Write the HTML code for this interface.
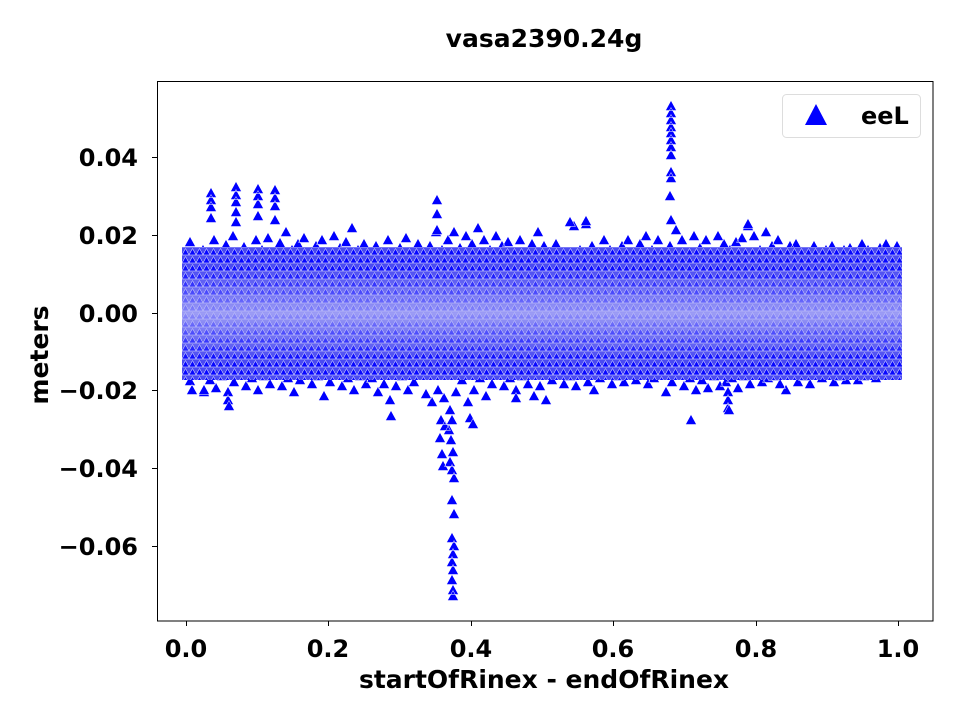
<!DOCTYPE html>
<html><head><meta charset="utf-8"><style>
body{margin:0;background:#fff}
svg{display:block;font-family:"DejaVu Sans","Liberation Sans",sans-serif;font-weight:bold}
</style></head><body>
<svg width="960" height="719" viewBox="0 0 960 719" xmlns="http://www.w3.org/2000/svg">
<defs>
<pattern id="p" x="0" y="0" width="7" height="8" patternUnits="userSpaceOnUse">
<rect width="7" height="8" fill="#4a4af2"/>
<path d="M3.5 0.5 L7 7 H0 Z" fill="#0808ff" stroke="#fff" stroke-width="0.5"/>
</pattern>
<linearGradient id="g" x1="0" y1="0" x2="0" y2="1">
<stop offset="0" stop-color="#b4b4f6" stop-opacity="0"/><stop offset="0.15" stop-color="#b4b4f6" stop-opacity="0"/><stop offset="0.35" stop-color="#b4b4f6" stop-opacity="0.4"/><stop offset="0.5" stop-color="#b8b8f6" stop-opacity="0.75"/><stop offset="0.65" stop-color="#b4b4f6" stop-opacity="0.4"/><stop offset="0.85" stop-color="#b4b4f6" stop-opacity="0"/><stop offset="1" stop-color="#b4b4f6" stop-opacity="0"/>
</linearGradient>
<clipPath id="c"><rect x="157" y="81" width="776" height="540"/></clipPath>
</defs>
<rect width="960" height="719" fill="#fff"/>
<g clip-path="url(#c)">
<g fill="#0000ff" stroke="#fff" stroke-width="0.5">
<path d="M190 236.5l5.5 10h-11zM196 252.5l5.5 10h-11zM203 244.5l5.5 10h-11zM209 256.5l5.5 10h-11zM214 234.5l5.5 10h-11zM220 249.5l5.5 10h-11zM226 239.5l5.5 10h-11zM233 230.5l5.5 10h-11zM238 246.5l5.5 10h-11zM244 241.5l5.5 10h-11zM250 252.5l5.5 10h-11zM256 234.5l5.5 10h-11zM262 244.5l5.5 10h-11zM268 232.5l5.5 10h-11zM274 249.5l5.5 10h-11zM280 237.5l5.5 10h-11zM286 226.5l5.5 10h-11zM292 244.5l5.5 10h-11zM298 238.5l5.5 10h-11zM304 232.5l5.5 10h-11zM310 250.5l5.5 10h-11zM316 240.5l5.5 10h-11zM322 234.5l5.5 10h-11zM328 246.5l5.5 10h-11zM334 230.5l5.5 10h-11zM340 242.5l5.5 10h-11zM346 236.5l5.5 10h-11zM352 222.5l5.5 10h-11zM358 244.5l5.5 10h-11zM364 238.5l5.5 10h-11zM370 250.5l5.5 10h-11zM376 240.5l5.5 10h-11zM382 246.5l5.5 10h-11zM388 234.5l5.5 10h-11zM394 252.5l5.5 10h-11zM400 242.5l5.5 10h-11zM406 232.5l5.5 10h-11zM412 246.5l5.5 10h-11zM418 238.5l5.5 10h-11zM424 250.5l5.5 10h-11zM430 240.5l5.5 10h-11zM436 226.5l5.5 10h-11zM442 244.5l5.5 10h-11zM448 234.5l5.5 10h-11zM454 226.5l5.5 10h-11zM460 242.5l5.5 10h-11zM466 230.5l5.5 10h-11zM472 238.5l5.5 10h-11zM478 222.5l5.5 10h-11zM484 234.5l5.5 10h-11zM490 244.5l5.5 10h-11zM496 230.5l5.5 10h-11zM502 240.5l5.5 10h-11zM508 236.5l5.5 10h-11zM514 246.5l5.5 10h-11zM520 234.5l5.5 10h-11zM526 250.5l5.5 10h-11zM532 238.5l5.5 10h-11zM538 226.5l5.5 10h-11zM544 240.5l5.5 10h-11zM550 246.5l5.5 10h-11zM556 238.5l5.5 10h-11zM562 252.5l5.5 10h-11zM568 256.5l5.5 10h-11zM574 220.5l5.5 10h-11zM580 244.5l5.5 10h-11zM586 218.5l5.5 10h-11zM592 240.5l5.5 10h-11zM598 250.5l5.5 10h-11zM604 234.5l5.5 10h-11zM610 244.5l5.5 10h-11zM616 252.5l5.5 10h-11zM622 240.5l5.5 10h-11zM628 234.5l5.5 10h-11zM634 246.5l5.5 10h-11zM640 238.5l5.5 10h-11zM646 230.5l5.5 10h-11zM652 244.5l5.5 10h-11zM658 234.5l5.5 10h-11zM664 246.5l5.5 10h-11zM670 240.5l5.5 10h-11zM676 224.5l5.5 10h-11zM682 234.5l5.5 10h-11zM688 246.5l5.5 10h-11zM694 230.5l5.5 10h-11zM700 242.5l5.5 10h-11zM706 234.5l5.5 10h-11zM712 246.5l5.5 10h-11zM718 230.5l5.5 10h-11zM724 238.5l5.5 10h-11zM730 244.5l5.5 10h-11zM736 236.5l5.5 10h-11zM742 232.5l5.5 10h-11zM748 220.5l5.5 10h-11zM754 230.5l5.5 10h-11zM760 244.5l5.5 10h-11zM766 226.5l5.5 10h-11zM772 240.5l5.5 10h-11zM778 234.5l5.5 10h-11zM784 248.5l5.5 10h-11zM790 240.5l5.5 10h-11zM796 238.5l5.5 10h-11zM802 246.5l5.5 10h-11zM808 252.5l5.5 10h-11zM814 240.5l5.5 10h-11zM820 250.5l5.5 10h-11zM826 244.5l5.5 10h-11zM832 240.5l5.5 10h-11zM838 248.5l5.5 10h-11zM844 244.5l5.5 10h-11zM850 242.5l5.5 10h-11zM856 248.5l5.5 10h-11zM862 238.5l5.5 10h-11zM868 244.5l5.5 10h-11zM874 250.5l5.5 10h-11zM880 242.5l5.5 10h-11zM886 238.5l5.5 10h-11zM892 246.5l5.5 10h-11zM897 240.5l5.5 10h-11z"/>
<path d="M190 375.5l5.5 10h-11zM192 384.5l5.5 10h-11zM198 368.5l5.5 10h-11zM204 386.5l5.5 10h-11zM210 374.5l5.5 10h-11zM216 382.5l5.5 10h-11zM222 370.5l5.5 10h-11zM228 394.5l5.5 10h-11zM228 386.5l5.5 10h-11zM234 376.5l5.5 10h-11zM240 368.5l5.5 10h-11zM246 380.5l5.5 10h-11zM252 372.5l5.5 10h-11zM258 384.5l5.5 10h-11zM264 370.5l5.5 10h-11zM270 378.5l5.5 10h-11zM276 366.5l5.5 10h-11zM282 380.5l5.5 10h-11zM288 372.5l5.5 10h-11zM294 386.5l5.5 10h-11zM300 374.5l5.5 10h-11zM306 368.5l5.5 10h-11zM312 378.5l5.5 10h-11zM318 370.5l5.5 10h-11zM324 390.5l5.5 10h-11zM330 376.5l5.5 10h-11zM336 366.5l5.5 10h-11zM342 380.5l5.5 10h-11zM348 372.5l5.5 10h-11zM354 384.5l5.5 10h-11zM360 370.5l5.5 10h-11zM366 378.5l5.5 10h-11zM372 372.5l5.5 10h-11zM378 386.5l5.5 10h-11zM384 378.5l5.5 10h-11zM390 394.5l5.5 10h-11zM391 410.5l5.5 10h-11zM396 380.5l5.5 10h-11zM402 370.5l5.5 10h-11zM408 384.5l5.5 10h-11zM414 376.5l5.5 10h-11zM420 368.5l5.5 10h-11zM426 388.5l5.5 10h-11zM432 396.5l5.5 10h-11zM438 384.5l5.5 10h-11zM444 392.5l5.5 10h-11zM456 386.5l5.5 10h-11zM462 374.5l5.5 10h-11zM468 396.5l5.5 10h-11zM470 412.5l5.5 10h-11zM474 384.5l5.5 10h-11zM480 372.5l5.5 10h-11zM486 390.5l5.5 10h-11zM492 378.5l5.5 10h-11zM498 368.5l5.5 10h-11zM504 380.5l5.5 10h-11zM510 372.5l5.5 10h-11zM516 384.5l5.5 10h-11zM522 370.5l5.5 10h-11zM528 378.5l5.5 10h-11zM534 390.5l5.5 10h-11zM540 380.5l5.5 10h-11zM546 394.5l5.5 10h-11zM552 374.5l5.5 10h-11zM558 366.5l5.5 10h-11zM564 378.5l5.5 10h-11zM570 370.5l5.5 10h-11zM576 380.5l5.5 10h-11zM582 368.5l5.5 10h-11zM588 376.5l5.5 10h-11zM594 384.5l5.5 10h-11zM600 372.5l5.5 10h-11zM606 366.5l5.5 10h-11zM612 378.5l5.5 10h-11zM618 370.5l5.5 10h-11zM624 376.5l5.5 10h-11zM630 368.5l5.5 10h-11zM636 374.5l5.5 10h-11zM642 366.5l5.5 10h-11zM648 378.5l5.5 10h-11zM654 372.5l5.5 10h-11zM660 368.5l5.5 10h-11zM666 386.5l5.5 10h-11zM672 376.5l5.5 10h-11zM678 368.5l5.5 10h-11zM684 380.5l5.5 10h-11zM690 372.5l5.5 10h-11zM691 414.5l5.5 10h-11zM696 384.5l5.5 10h-11zM702 374.5l5.5 10h-11zM708 382.5l5.5 10h-11zM714 370.5l5.5 10h-11zM720 380.5l5.5 10h-11zM726 376.5l5.5 10h-11zM728 386.5l5.5 10h-11zM728 394.5l5.5 10h-11zM728 402.5l5.5 10h-11zM732 372.5l5.5 10h-11zM738 382.5l5.5 10h-11zM744 370.5l5.5 10h-11zM750 378.5l5.5 10h-11zM756 368.5l5.5 10h-11zM762 376.5l5.5 10h-11zM768 372.5l5.5 10h-11zM774 370.5l5.5 10h-11zM780 378.5l5.5 10h-11zM786 384.5l5.5 10h-11zM792 368.5l5.5 10h-11zM798 376.5l5.5 10h-11zM804 370.5l5.5 10h-11zM810 378.5l5.5 10h-11zM816 368.5l5.5 10h-11zM822 372.5l5.5 10h-11zM828 366.5l5.5 10h-11zM834 376.5l5.5 10h-11zM840 370.5l5.5 10h-11zM846 374.5l5.5 10h-11zM852 368.5l5.5 10h-11zM858 374.5l5.5 10h-11zM864 370.5l5.5 10h-11zM870 366.5l5.5 10h-11zM876 372.5l5.5 10h-11zM882 368.5l5.5 10h-11zM888 362.5l5.5 10h-11zM894 358.5l5.5 10h-11zM897 362.5l5.5 10h-11z"/>
<path d="M671 100.5l5.5 10h-11zM671 107.5l5.5 10h-11zM671 114.5l5.5 10h-11zM671 121.5l5.5 10h-11zM671 127.5l5.5 10h-11zM671 134.5l5.5 10h-11zM671 141.5l5.5 10h-11zM671 149.5l5.5 10h-11zM671 166.5l5.5 10h-11zM671 172.5l5.5 10h-11zM670 190.5l5.5 10h-11zM671 214.5l5.5 10h-11zM450 404.5l5.5 10h-11zM452 414.5l5.5 10h-11zM449 424.5l5.5 10h-11zM451 434.5l5.5 10h-11zM453 446.5l5.5 10h-11zM450 456.5l5.5 10h-11zM452 464.5l5.5 10h-11zM454 472.5l5.5 10h-11zM452 494.5l5.5 10h-11zM454 508.5l5.5 10h-11zM452 532.5l5.5 10h-11zM454 540.5l5.5 10h-11zM453 548.5l5.5 10h-11zM452 556.5l5.5 10h-11zM453 564.5l5.5 10h-11zM452 574.5l5.5 10h-11zM453 584.5l5.5 10h-11zM453 590.5l5.5 10h-11zM437 194.5l5.5 10h-11zM437 208.5l5.5 10h-11zM437 224.5l5.5 10h-11zM441 414.5l5.5 10h-11zM440 432.5l5.5 10h-11zM442 448.5l5.5 10h-11zM443 460.5l5.5 10h-11zM445 420.5l5.5 10h-11zM211 187.5l5.5 10h-11zM211 194.5l5.5 10h-11zM211 201.5l5.5 10h-11zM211 212.5l5.5 10h-11zM236 181.5l5.5 10h-11zM236 189.5l5.5 10h-11zM236 196.5l5.5 10h-11zM236 206.5l5.5 10h-11zM236 216.5l5.5 10h-11zM258 183.5l5.5 10h-11zM258 190.5l5.5 10h-11zM258 198.5l5.5 10h-11zM258 210.5l5.5 10h-11zM275 184.5l5.5 10h-11zM275 192.5l5.5 10h-11zM275 200.5l5.5 10h-11zM275 214.5l5.5 10h-11zM570 216.5l5.5 10h-11zM586 215.5l5.5 10h-11zM748 218.5l5.5 10h-11zM729 404.5l5.5 10h-11zM473 418.5l5.5 10h-11zM516 392.5l5.5 10h-11zM204 384.5l5.5 10h-11zM229 400.5l5.5 10h-11z"/>
<rect x="182" y="247" width="720" height="133" fill="url(#p)" stroke="none"/>
<rect x="182" y="247" width="720" height="133" fill="url(#g)" stroke="none"/>
</g>
</g>
<rect x="157.5" y="81.5" width="775.5" height="539.5" fill="none" stroke="#000" stroke-width="1"/>
<g stroke="#000" stroke-width="1">
<line x1="152" y1="157.5" x2="157" y2="157.5"/><line x1="152" y1="235.5" x2="157" y2="235.5"/><line x1="152" y1="313.5" x2="157" y2="313.5"/><line x1="152" y1="390.5" x2="157" y2="390.5"/><line x1="152" y1="468.5" x2="157" y2="468.5"/><line x1="152" y1="546.5" x2="157" y2="546.5"/>
<line x1="186.5" y1="621" x2="186.5" y2="626"/><line x1="328.5" y1="621" x2="328.5" y2="626"/><line x1="471.5" y1="621" x2="471.5" y2="626"/><line x1="613.5" y1="621" x2="613.5" y2="626"/><line x1="756.5" y1="621" x2="756.5" y2="626"/><line x1="898.5" y1="621" x2="898.5" y2="626"/>
</g>
<g font-size="24" text-anchor="end">
<text x="138" y="166">0.04</text><text x="138" y="244">0.02</text><text x="138" y="322">0.00</text><text x="138" y="399">−0.02</text><text x="138" y="477">−0.04</text><text x="138" y="555">−0.06</text>
</g>
<g font-size="24" text-anchor="middle">
<text x="186" y="657">0.0</text><text x="328" y="657">0.2</text><text x="471" y="657">0.4</text><text x="613" y="657">0.6</text><text x="756" y="657">0.8</text><text x="898" y="657">1.0</text>
</g>
<g font-size="25" text-anchor="middle">
<text x="544" y="688">startOfRinex - endOfRinex</text>
<text x="544" y="47">vasa2390.24g</text>
<text transform="translate(48,355) rotate(-90)">meters</text>
</g>
<rect x="782.5" y="94.5" width="138" height="43" rx="4" fill="#fff" stroke="#ddd"/>
<polygon points="816,104 827,125 805,125" fill="#0000ff"/>
<text x="861" y="124" font-size="24">eeL</text>
</svg>
</body></html>
